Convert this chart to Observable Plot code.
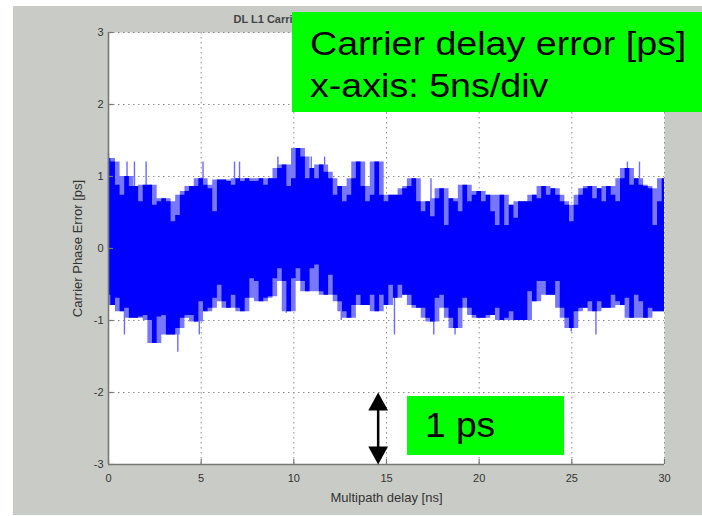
<!DOCTYPE html>
<html>
<head>
<meta charset="utf-8">
<script src="https://cdn.jsdelivr.net/npm/d3@7"></script>
<script src="https://cdn.jsdelivr.net/npm/@observablehq/plot@0.6"></script>
<style>
  html, body { margin: 0; padding: 0; background: #ffffff; }
  #wrap { position: relative; width: 702px; height: 516px; overflow: hidden; background: #ffffff; font-family: "Liberation Sans", Arial, sans-serif; }
  #figbg { position: absolute; left: 13px; top: 6px; width: 689px; height: 509px; background: #c9ccc6; }
  #chart { position: absolute; left: 0; top: 0; }
  .box { position: absolute; background: #00ff00; }
  .lbl { position: absolute; color: #000; white-space: nowrap; line-height: 1; transform-origin: 0 0; }
</style>
</head>
<body>
<div id="wrap">
  <div id="figbg"></div>
  <div id="chart"></div>
  <div class="box" style="left:292px;top:12px;width:410px;height:100px;"></div>
  <div class="lbl" id="t1" style="left:310px;top:27px;font-size:33px;transform:scaleX(1.14);"></div>
  <div class="lbl" id="t2" style="left:310px;top:69px;font-size:33px;transform:scaleX(1.14);"></div>
  <div class="box" style="left:407px;top:396px;width:157px;height:59px;"></div>
  <div class="lbl" id="t3" style="left:425px;top:407px;font-size:35px;transform:scaleX(1.06);"></div>
</div>
<script>
// ---- Data ----
const sampleStep = 0.25; // ns between envelope samples
// upper envelope of the carrier phase error trace [ps]
const upper = [
  1.25, 1.2, 0.88, 0.74, 1.0, 0.86, 0.86, 0.65, 0.88, 0.88, 0.6, 0.65, 0.69, 0.65, 0.37, 0.46, 0.74, 0.79, 0.86, 0.86, 0.97, 0.88, 0.83, 0.51, 0.95, 0.95, 0.93, 0.88, 0.97, 0.93,
  0.97, 0.93, 0.93, 0.97, 0.88, 0.97, 0.97, 1.11, 1.16, 0.86, 0.97, 1.39, 1.27, 0.97, 1.11, 0.97, 1.16, 1.06, 0.97, 0.74, 0.86, 0.65, 0.74, 0.97, 1.2, 0.86, 0.65, 0.74, 1.2, 0.74,
  0.65, 0.74, 0.74, 0.74, 0.83, 0.86, 0.97, 0.65, 0.51, 0.65, 0.44, 0.69, 0.83, 0.32, 0.69, 0.65, 0.51, 0.88, 0.65, 0.74, 0.79, 0.65, 0.74, 0.51, 0.32, 0.74, 0.32, 0.6, 0.42, 0.65, 0.65,
  0.65, 0.74, 0.69, 0.86, 0.74, 0.83, 0.74, 0.65, 0.6, 0.37, 0.6, 0.74, 0.83, 0.86, 0.69, 0.83, 0.65, 0.86, 0.74, 0.65, 0.97, 1.11, 0.88, 0.97, 0.88, 0.86, 0.83, 0.32, 0.65, 0.97
];
// lower envelope [ps]
const lower = [
  -0.65, -0.79, -0.69, -0.88, -0.83, -0.97, -0.97, -0.95, -0.93, -1.0, -1.32, -0.95, -0.93, -1.2, -1.2, -1.11, -0.97, -0.93, -0.93, -1.02, -0.74, -0.88, -0.83, -0.69, -0.51, -0.74, -0.83, -0.65, -0.83, -0.88,
  -0.69, -0.42, -0.46, -0.74, -0.69, -0.67, -0.42, -0.28, -0.46, -0.88, -0.42, -0.28, -0.46, -0.6, -0.28, -0.23, -0.6, -0.65, -0.37, -0.65, -0.74, -0.88, -0.97, -0.79, -0.65, -0.79, -0.79, -0.65, -0.88, -0.65,
  -0.79, -0.51, -0.69, -0.51, -0.65, -0.65, -0.79, -0.83, -0.83, -0.97, -1.02, -0.69, -0.65, -0.83, -0.97, -1.11, -0.83, -0.69, -0.83, -0.93, -0.97, -0.97, -0.93, -0.93, -0.83, -1.0, -0.97, -0.88, -1.0, -1.0, -1.0,
  -0.6, -0.74, -0.46, -0.46, -0.65, -0.65, -0.46, -0.83, -0.97, -1.11, -0.88, -0.83, -0.83, -0.74, -0.88, -0.74, -0.83, -0.83, -0.65, -0.74, -0.79, -0.69, -0.97, -0.65, -0.74, -0.97, -0.83, -0.88, -0.88, -0.88
];
// thin isolated spikes (x [ns], tip [ps])
const spikeX = [0, 1.0, 1.4, 2.03, 5.1, 6.8, 7.07, 0.86, 3.74, 4.9, 9.14, 10.94, 11.66, 9.59, 12.56, 15.43, 17.55, 18.7, 16.5, 17.4, 28.0, 28.65, 24.97, 26.3, 29.0];
const spikeY = [1.32, 1.2, 1.2, 1.2, 1.2, 1.2, 1.2, -1.2, -1.44, -1.2, 1.27, 1.27, 1.27, -0.9, -1.0, -1.2, -1.2, -1.2, 0.97, 0.97, 1.2, 1.2, -1.16, -1.2, -0.97];

const xTicks = [0, 5, 10, 15, 20, 25, 30];
const yTicks = [-3, -2, -1, 0, 1, 2, 3];
const xLabel = "Multipath delay [ns]";
const yLabel = "Carrier Phase Error [ps]";
const title = "DL L1 Carrier Phase Error vs. Multipath delay (0 dB)";
const noteLines = ["Carrier delay error [ps]", "x-axis: 5ns/div"];
const scaleNote = "1 ps";
const arrowAt = [{x: 14.55, top: -2, bottom: -3}];

// ---- Build tables ----
const signal = upper.map((hi, i) => ({x: i * sampleStep, hi, lo: lower[i]}));
// lighter fringe: the trace's thin excursions around each dark block (local extremes of the read envelopes)
const fringe = signal.map((d, i) => ({
  x: d.x,
  hi: Math.max(upper[i - 1] ?? d.hi, d.hi, upper[i + 1] ?? d.hi),
  lo: Math.min(lower[i - 1] ?? d.lo, d.lo, lower[i + 1] ?? d.lo)
}));
const spikes = spikeX.map((x, i) => ({x, y: spikeY[i]}));

const headUp = {draw(ctx, size) { const k = Math.sqrt(size); const w = 0.62 * k, h = 1.13 * k; ctx.moveTo(0, 0); ctx.lineTo(w, h); ctx.lineTo(-w, h); ctx.closePath(); }};
const headDown = {draw(ctx, size) { const k = Math.sqrt(size); const w = 0.62 * k, h = 1.13 * k; ctx.moveTo(0, 0); ctx.lineTo(w, -h); ctx.lineTo(-w, -h); ctx.closePath(); }};

const axisColor = "#777";
const textColor = "#333";

const chart = Plot.plot({
  width: 702,
  height: 516,
  marginLeft: 108,
  marginRight: 38,
  marginTop: 32,
  marginBottom: 52,
  x: {domain: [0, 30], axis: null},
  y: {domain: [-3, 3], axis: null},
  style: {background: "transparent", fontFamily: "'Liberation Sans', Arial, sans-serif", overflow: "visible"},
  marks: [
    Plot.frame({fill: "white", stroke: null}),
    Plot.gridX(xTicks, {stroke: "#8c8c8c", strokeOpacity: 1, strokeWidth: 1, strokeDasharray: "1.5,3.5"}),
    Plot.gridY(yTicks, {stroke: "#8c8c8c", strokeOpacity: 1, strokeWidth: 1, strokeDasharray: "1.5,3.5"}),
    Plot.ruleX(spikes, {x: "x", y1: 0, y2: "y", stroke: "#6b6bff", strokeWidth: 1.4}),
    Plot.areaY(fringe, {x: "x", y1: "lo", y2: "hi", curve: "step", fill: "#7777ff"}),
    Plot.areaY(signal, {x: "x", y1: "lo", y2: "hi", curve: "step", fill: "#0000ff"}),
    Plot.ruleX([0], {stroke: axisColor, strokeWidth: 1.6}),
    Plot.ruleY([-3], {stroke: axisColor, strokeWidth: 1.6}),
    Plot.ruleY(yTicks, {y: d => d, x1: 0, x2: 0.27, stroke: axisColor, strokeWidth: 1.2}),
    Plot.ruleX(xTicks, {x: d => d, y1: -3, y2: -2.93, stroke: axisColor, strokeWidth: 1.2}),
    Plot.axisX(xTicks, {tickSize: 0, tickPadding: 10, label: null, fontSize: 11, fill: textColor, tickFormat: d => String(d)}),
    Plot.axisY(yTicks, {tickSize: 0, tickPadding: 5, label: null, fontSize: 11, fill: textColor, tickFormat: d => String(d)}),
    Plot.text([xLabel], {frameAnchor: "bottom", dy: 33, lineAnchor: "middle", textAnchor: "middle", fontSize: 13, fill: textColor}),
    Plot.text([yLabel], {frameAnchor: "left", rotate: -90, dx: -31, textAnchor: "middle", lineAnchor: "middle", fontSize: 13, fill: textColor}),
    Plot.text([title], {frameAnchor: "top-left", dx: 125, dy: -17, textAnchor: "start", fontSize: 11, fontWeight: "bold", fill: "#444"}),
    Plot.ruleX(arrowAt, {x: "x", y1: "top", y2: "bottom", stroke: "black", strokeWidth: 2.5, insetTop: 10, insetBottom: 10}),
    Plot.dot(arrowAt, {x: "x", y: "top", symbol: headUp, r: 9, fill: "black", stroke: null}),
    Plot.dot(arrowAt, {x: "x", y: "bottom", symbol: headDown, r: 9, fill: "black", stroke: null})
  ]
});
document.getElementById("chart").appendChild(chart);
document.getElementById("t1").textContent = noteLines[0];
document.getElementById("t2").textContent = noteLines[1];
document.getElementById("t3").textContent = scaleNote;
</script>
</body>
</html>
